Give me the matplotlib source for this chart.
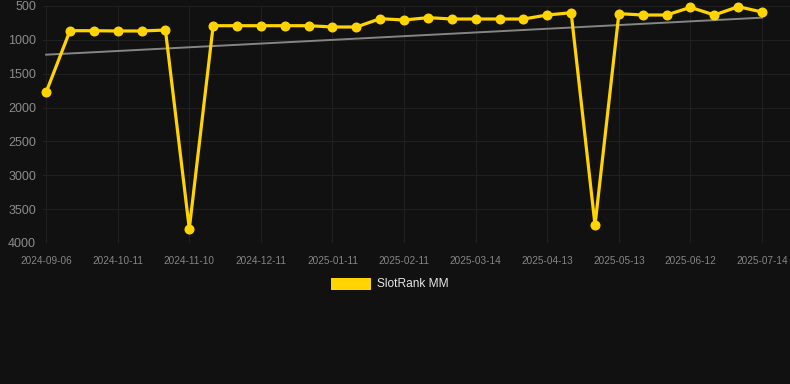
import matplotlib
matplotlib.use("Agg")
import matplotlib.pyplot as plt
import numpy as np
from matplotlib.patches import Rectangle

plt.rcParams["font.family"] = ["Liberation Sans", "DejaVu Sans"]

ranks = [1775, 865, 865, 869, 869, 855, 3789, 791, 791, 791, 791, 791, 810, 810,
         687, 707, 672, 692, 692, 692, 692, 633, 599, 3735, 613, 633, 633, 520,
         633, 510, 589]
tick_labels = ["2024-09-06", "2024-10-11", "2024-11-10", "2024-12-11", "2025-01-11",
               "2025-02-11", "2025-03-14", "2025-04-13", "2025-05-13", "2025-06-12",
               "2025-07-14"]
trend = [1219, 672]
series_name = "SlotRank MM"

BG = "#111111"
GOLD = "#FFD400"

fig = plt.figure(figsize=(7.9, 3.84), dpi=100, facecolor=BG)
ax = fig.add_axes([43/790, 1-243/384, 1-43/790, 237/384])
ax.set_facecolor(BG)

x = np.arange(len(ranks))
ax.plot([x[0], x[-1]], trend, color="#858585", lw=1.4, zorder=2)
ax.plot(x, ranks, color=GOLD, lw=2.3, marker="o", markersize=6.2,
        markeredgewidth=1.0, solid_joinstyle="miter", zorder=3, clip_on=False)

ax.set_ylim(4000, 500)
ax.set_xlim(-0.13, len(ranks) - 1 + 1.17)
ax.set_yticks([500, 1000, 1500, 2000, 2500, 3000, 3500, 4000])
ax.set_xticks(x[::3])
ax.set_xticklabels(tick_labels)
ax.tick_params(axis="y", colors="#8c8c8c", labelsize=9, length=0, pad=5)
ax.tick_params(axis="x", colors="#858585", labelsize=7.2, length=0, pad=9)
ax.grid(True, color="#202020", lw=0.8)
for s in ax.spines.values():
    s.set_visible(False)

# legend
fig.patches.append(Rectangle((331/790, 1-290/384), 40/790, 12/384,
                             transform=fig.transFigure, facecolor=GOLD,
                             edgecolor="none"))
fig.text(377/790, 1-284/384, series_name, color="#e6e6e6", fontsize=8.6,
         va="center", ha="left")

fig.savefig("out.png", dpi=100, facecolor=BG)
